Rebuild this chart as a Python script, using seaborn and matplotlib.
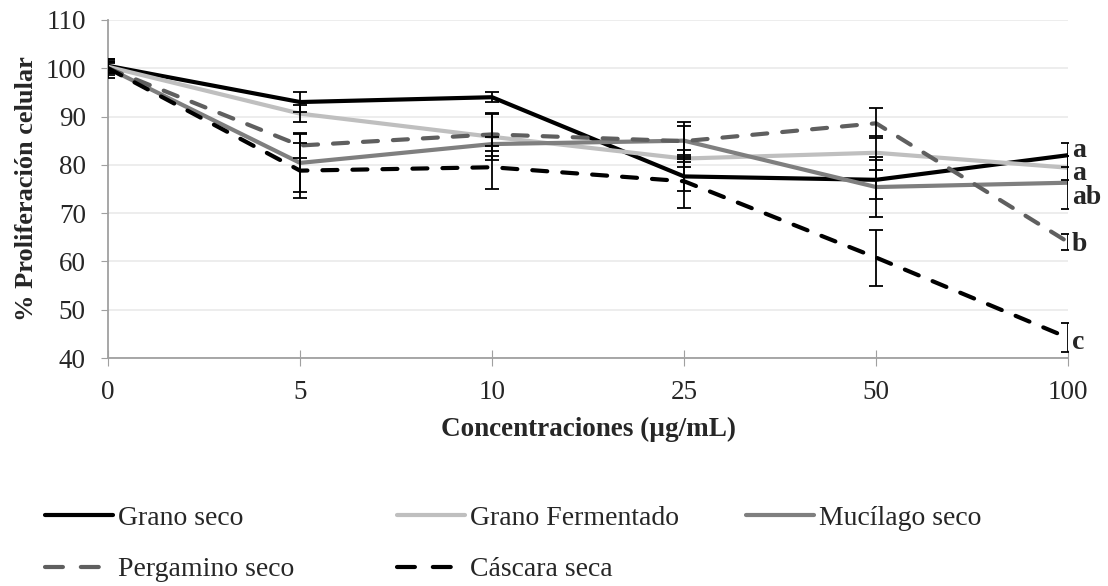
import matplotlib
matplotlib.use("Agg")
import matplotlib.pyplot as plt
import seaborn as sns
import pandas as pd

concentraciones = ["0", "5", "10", "25", "50", "100"]
series = ["Grano seco", "Grano Fermentado", "Mucílago seco", "Pergamino seco", "Cáscara seca"]
grano_seco = [100.5, 93.0, 94.0, 77.6, 76.9, 82.0]
grano_fermentado = [100.3, 90.6, 85.8, 81.3, 82.5, 79.4]
mucilago_seco = [100.0, 80.4, 84.3, 85.0, 75.4, 76.3]
pergamino_seco = [100.0, 84.0, 86.3, 84.9, 88.6, 64.0]
cascara_seca = [100.0, 78.8, 79.5, 76.6, 60.8, 44.2]
err_grano_seco = [1.5, 2.0, 1.0, 3.0, 4.0, 2.5]
err_grano_fermentado = [1.0, 1.8, 4.8, 1.8, 3.5, 2.5]
err_mucilago_seco = [1.5, 6.0, 1.5, 3.8, 6.2, 5.5]
err_pergamino_seco = [1.0, 2.5, 4.5, 3.2, 3.1, 1.6]
err_cascara_seca = [2.0, 5.7, 4.5, 5.5, 5.8, 3.0]
letras = ["a", "a", "ab", "b", "c"]

valores = [grano_seco, grano_fermentado, mucilago_seco, pergamino_seco, cascara_seca]
errores = [err_grano_seco, err_grano_fermentado, err_mucilago_seco, err_pergamino_seco, err_cascara_seca]
colores = ["#000000", "#bfbfbf", "#7f7f7f", "#5f5f5f", "#000000"]
estilos = ["-", "-", "-", (0, (3.6, 3.6)), (0, (3.6, 3.6))]
letra_y = [83.0, 78.3, 73.2, 63.5, 43.2]

df = pd.DataFrame({
    "pos": list(range(len(concentraciones))) * len(series),
    "valor": sum(valores, []),
    "serie": sum([[s] * len(concentraciones) for s in series], []),
})

sns.set_style("white")
plt.rcParams["font.family"] = ["Liberation Serif", "DejaVu Serif"]

fig, ax = plt.subplots(figsize=(11.08, 5.86), dpi=100)
fig.subplots_adjust(left=0.0975, right=0.964, top=0.966, bottom=0.389)

for s, c, ls in zip(series, colores, estilos):
    sns.lineplot(data=df[df["serie"] == s], x="pos", y="valor", color=c,
                 linestyle=ls, linewidth=3.0, ax=ax, label=s,
                 dash_capstyle="round", solid_capstyle="round")

for v, e in zip(valores, errores):
    ax.errorbar(range(len(concentraciones)), v, yerr=e, fmt="none",
                ecolor="black", elinewidth=1.3, capsize=5, capthick=1.3, zorder=5)

for l, y in zip(letras, letra_y):
    ax.text(len(concentraciones) - 1 + 0.02, y, l, fontsize=20, fontweight="bold",
            va="center", ha="left", clip_on=False)

ax.set_xlim(0, len(concentraciones) - 1)
ax.set_ylim(40, 110)
ax.set_yticks(range(40, 111, 10))
ax.set_xticks(range(len(concentraciones)))
ax.set_xticklabels(concentraciones)
ax.yaxis.grid(True, color="#ececec", linewidth=1.3)
ax.tick_params(axis="y", labelsize=19.5, length=5, color="#a0a0a0", direction="out",
               left=True, pad=11)
ax.tick_params(axis="x", labelsize=19.5, length=12, color="#a0a0a0", direction="inout",
               bottom=True, pad=10)
for sp in ["top", "right"]:
    ax.spines[sp].set_visible(False)
for sp in ["left", "bottom"]:
    ax.spines[sp].set_color("#a0a0a0")
    ax.spines[sp].set_linewidth(1.3)

ax.set_xlabel("Concentraciones (µg/mL)", fontsize=19.5, fontweight="bold", labelpad=8)
ax.set_ylabel("% Proliferación celular", fontsize=19, fontweight="bold", labelpad=5)

handles, labels = ax.get_legend_handles_labels()
ax.get_legend().remove()
columnas = [[0, 3], [1, 4], [2]]
col_x = [0.041, 0.358, 0.673]
for idx, x0 in zip(columnas, col_x):
    leg = fig.legend([handles[i] for i in idx], [labels[i] for i in idx],
                     loc="upper left", bbox_to_anchor=(x0, 0.138), ncol=1,
                     frameon=False, fontsize=20, handlelength=2.45, handletextpad=0.18,
                     labelspacing=0.95, borderpad=0, borderaxespad=0)
    for ln in leg.get_lines():
        if ln.get_linestyle() != "-":
            ln.set_linestyle((0, (4.3, 4.3)))

fig.savefig("out.png", dpi=100)
